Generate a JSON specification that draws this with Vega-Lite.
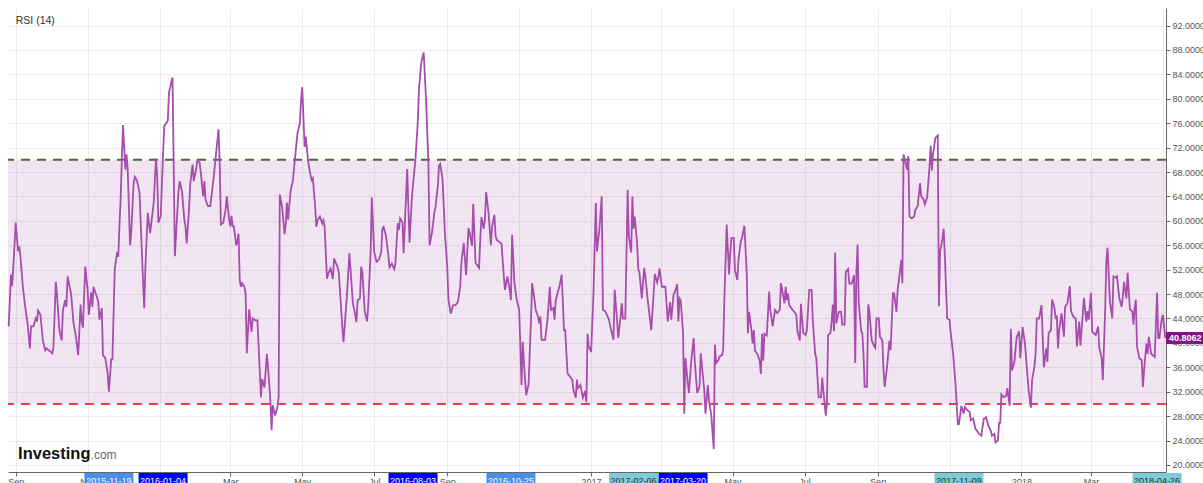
{
"$schema": "https://vega.github.io/schema/vega-lite/v6.json",
"width": 1158, "height": 464,
"autosize": {"type": "none"},
"padding": {"left": 8, "top": 8, "right": 37, "bottom": 11},
"background": "white",
"config": {"view": {"stroke": null}, "font": "Liberation Sans", "axisX": {"labelOverlap": false}, "axisY": {"labelOverlap": false}, "scale": {"continuousPadding": 0}},
"datasets": {
"rsi": [
{"date":"2015-08-26","rsi":42.7},{"date":"2015-08-28","rsi":51.2},{"date":"2015-08-29","rsi":49.3},{"date":"2015-08-30","rsi":52.5},{"date":"2015-09-01","rsi":59.7},{"date":"2015-09-03","rsi":55.0},{"date":"2015-09-04","rsi":55.8},{"date":"2015-09-05","rsi":54.2},{"date":"2015-09-07","rsi":49.3},{"date":"2015-09-09","rsi":46.0},{"date":"2015-09-11","rsi":43.3},{"date":"2015-09-13","rsi":39.1},{"date":"2015-09-14","rsi":42.7},{"date":"2015-09-16","rsi":42.7},{"date":"2015-09-18","rsi":44.0},{"date":"2015-09-19","rsi":43.5},{"date":"2015-09-20","rsi":45.3},{"date":"2015-09-22","rsi":44.6},{"date":"2015-09-24","rsi":40.4},{"date":"2015-09-26","rsi":38.8},{"date":"2015-09-27","rsi":39.1},{"date":"2015-09-29","rsi":38.8},{"date":"2015-10-01","rsi":38.5},{"date":"2015-10-02","rsi":38.3},{"date":"2015-10-03","rsi":39.4},{"date":"2015-10-05","rsi":50.0},{"date":"2015-10-06","rsi":48.0},{"date":"2015-10-08","rsi":42.1},{"date":"2015-10-10","rsi":40.4},{"date":"2015-10-11","rsi":45.3},{"date":"2015-10-13","rsi":47.0},{"date":"2015-10-14","rsi":45.9},{"date":"2015-10-15","rsi":50.9},{"date":"2015-10-18","rsi":48.0},{"date":"2015-10-20","rsi":43.3},{"date":"2015-10-22","rsi":41.1},{"date":"2015-10-24","rsi":38.0},{"date":"2015-10-26","rsi":46.3},{"date":"2015-10-27","rsi":43.5},{"date":"2015-10-28","rsi":42.5},{"date":"2015-10-30","rsi":52.5},{"date":"2015-11-01","rsi":48.6},{"date":"2015-11-02","rsi":44.6},{"date":"2015-11-04","rsi":48.3},{"date":"2015-11-05","rsi":45.9},{"date":"2015-11-06","rsi":49.2},{"date":"2015-11-08","rsi":48.0},{"date":"2015-11-10","rsi":46.8},{"date":"2015-11-11","rsi":43.8},{"date":"2015-11-13","rsi":45.7},{"date":"2015-11-14","rsi":38.0},{"date":"2015-11-16","rsi":37.5},{"date":"2015-11-18","rsi":35.0},{"date":"2015-11-19","rsi":32.0},{"date":"2015-11-21","rsi":37.3},{"date":"2015-11-22","rsi":37.3},{"date":"2015-11-24","rsi":52.1},{"date":"2015-11-26","rsi":54.9},{"date":"2015-11-27","rsi":54.1},{"date":"2015-11-28","rsi":59.3},{"date":"2015-11-29","rsi":63.5},{"date":"2015-11-30","rsi":70.1},{"date":"2015-12-01","rsi":75.7},{"date":"2015-12-03","rsi":68.4},{"date":"2015-12-04","rsi":70.9},{"date":"2015-12-05","rsi":68.4},{"date":"2015-12-07","rsi":56.0},{"date":"2015-12-08","rsi":58.2},{"date":"2015-12-10","rsi":66.2},{"date":"2015-12-11","rsi":67.2},{"date":"2015-12-13","rsi":66.5},{"date":"2015-12-15","rsi":64.6},{"date":"2015-12-17","rsi":54.9},{"date":"2015-12-18","rsi":50.0},{"date":"2015-12-19","rsi":45.7},{"date":"2015-12-20","rsi":52.5},{"date":"2015-12-22","rsi":61.3},{"date":"2015-12-23","rsi":59.7},{"date":"2015-12-24","rsi":58.0},{"date":"2015-12-26","rsi":61.3},{"date":"2015-12-27","rsi":62.9},{"date":"2015-12-29","rsi":70.2},{"date":"2015-12-30","rsi":67.3},{"date":"2015-12-31","rsi":59.7},
{"date":"2016-01-02","rsi":60.8},{"date":"2016-01-04","rsi":71.1},{"date":"2016-01-05","rsi":75.6},{"date":"2016-01-06","rsi":75.8},{"date":"2016-01-08","rsi":76.4},{"date":"2016-01-09","rsi":81.0},{"date":"2016-01-10","rsi":81.9},{"date":"2016-01-12","rsi":83.5},{"date":"2016-01-13","rsi":69.0},{"date":"2016-01-14","rsi":54.2},{"date":"2016-01-16","rsi":61.3},{"date":"2016-01-17","rsi":64.6},{"date":"2016-01-18","rsi":66.5},{"date":"2016-01-20","rsi":64.9},{"date":"2016-01-22","rsi":60.2},{"date":"2016-01-23","rsi":59.1},{"date":"2016-01-24","rsi":56.3},{"date":"2016-01-26","rsi":61.8},{"date":"2016-01-27","rsi":66.0},{"date":"2016-01-29","rsi":69.2},{"date":"2016-01-30","rsi":66.5},{"date":"2016-02-01","rsi":68.4},{"date":"2016-02-02","rsi":69.8},{"date":"2016-02-04","rsi":69.5},{"date":"2016-02-05","rsi":67.9},{"date":"2016-02-07","rsi":64.0},{"date":"2016-02-08","rsi":66.5},{"date":"2016-02-09","rsi":63.5},{"date":"2016-02-11","rsi":62.4},{"date":"2016-02-13","rsi":62.4},{"date":"2016-02-14","rsi":64.0},{"date":"2016-02-16","rsi":67.3},{"date":"2016-02-18","rsi":71.2},{"date":"2016-02-20","rsi":75.0},{"date":"2016-02-21","rsi":69.5},{"date":"2016-02-22","rsi":59.4},{"date":"2016-02-24","rsi":59.7},{"date":"2016-02-26","rsi":61.8},{"date":"2016-02-27","rsi":64.0},{"date":"2016-02-29","rsi":60.2},{"date":"2016-03-01","rsi":59.1},{"date":"2016-03-02","rsi":60.8},{"date":"2016-03-03","rsi":59.1},
{"date":"2016-03-04","rsi":59.1},{"date":"2016-03-06","rsi":56.0},{"date":"2016-03-07","rsi":56.6},{"date":"2016-03-08","rsi":57.9},{"date":"2016-03-09","rsi":50.3},{"date":"2016-03-10","rsi":49.2},{"date":"2016-03-11","rsi":49.8},{"date":"2016-03-13","rsi":49.2},{"date":"2016-03-14","rsi":48.0},{"date":"2016-03-15","rsi":38.3},{"date":"2016-03-17","rsi":45.5},{"date":"2016-03-19","rsi":41.8},{"date":"2016-03-20","rsi":44.0},{"date":"2016-03-22","rsi":43.7},{"date":"2016-03-24","rsi":43.7},{"date":"2016-03-27","rsi":31.1},{"date":"2016-03-28","rsi":34.1},{"date":"2016-03-30","rsi":32.7},{"date":"2016-04-01","rsi":38.2},{"date":"2016-04-02","rsi":36.0},{"date":"2016-04-04","rsi":30.5},{"date":"2016-04-05","rsi":25.7},{"date":"2016-04-06","rsi":29.8},{"date":"2016-04-08","rsi":28.1},{"date":"2016-04-10","rsi":29.5},{"date":"2016-04-11","rsi":31.1},{"date":"2016-04-12","rsi":64.3},{"date":"2016-04-14","rsi":62.2},{"date":"2016-04-16","rsi":57.8},{"date":"2016-04-17","rsi":59.4},{"date":"2016-04-18","rsi":63.0},{"date":"2016-04-19","rsi":60.2},{"date":"2016-04-21","rsi":64.6},{"date":"2016-04-22","rsi":65.7},{"date":"2016-04-23","rsi":66.5},{"date":"2016-04-25","rsi":70.5},{"date":"2016-04-27","rsi":74.4},{"date":"2016-04-29","rsi":76.0},{"date":"2016-04-30","rsi":79.8},{"date":"2016-05-01","rsi":81.9},{"date":"2016-05-03","rsi":72.1},{"date":"2016-05-04","rsi":73.8},{"date":"2016-05-06","rsi":69.7},{"date":"2016-05-08","rsi":67.5},{"date":"2016-05-09","rsi":66.7},{"date":"2016-05-10","rsi":67.0},{"date":"2016-05-12","rsi":62.3},{"date":"2016-05-13","rsi":59.0},{"date":"2016-05-14","rsi":60.1},{"date":"2016-05-16","rsi":60.7},{"date":"2016-05-18","rsi":59.6},{"date":"2016-05-19","rsi":60.1},{"date":"2016-05-20","rsi":59.0},{"date":"2016-05-22","rsi":50.5},{"date":"2016-05-23","rsi":51.3},{"date":"2016-05-25","rsi":52.2},{"date":"2016-05-27","rsi":50.5},{"date":"2016-05-28","rsi":53.8},{"date":"2016-05-31","rsi":52.4},{"date":"2016-06-01","rsi":51.6},{"date":"2016-06-04","rsi":42.6},{"date":"2016-06-05","rsi":40.1},{"date":"2016-06-08","rsi":48.0},{"date":"2016-06-10","rsi":54.7},{"date":"2016-06-13","rsi":46.4},{"date":"2016-06-14","rsi":45.6},{"date":"2016-06-16","rsi":43.4},{"date":"2016-06-17","rsi":47.0},{"date":"2016-06-19","rsi":47.3},{"date":"2016-06-20","rsi":52.5},{"date":"2016-06-21","rsi":51.6},{"date":"2016-06-23","rsi":45.2},{"date":"2016-06-25","rsi":43.5},{"date":"2016-06-26","rsi":46.2},{"date":"2016-06-28","rsi":54.9},{"date":"2016-06-29","rsi":63.8},{"date":"2016-07-01","rsi":54.9},{"date":"2016-07-03","rsi":53.3},{"date":"2016-07-05","rsi":53.6},{"date":"2016-07-07","rsi":54.9},{"date":"2016-07-08","rsi":58.7},{"date":"2016-07-09","rsi":59.0},{"date":"2016-07-11","rsi":57.6},{"date":"2016-07-13","rsi":54.4},{"date":"2016-07-14","rsi":52.4},{"date":"2016-07-16","rsi":53.0},{"date":"2016-07-18","rsi":52.1},{"date":"2016-07-19","rsi":53.0},{"date":"2016-07-21","rsi":59.6},{"date":"2016-07-22","rsi":58.5},{"date":"2016-07-23","rsi":60.4},{"date":"2016-07-25","rsi":59.8},{"date":"2016-07-26","rsi":54.7},{"date":"2016-07-29","rsi":68.5},{"date":"2016-07-31","rsi":56.4},{"date":"2016-08-02","rsi":63.8},{"date":"2016-08-03","rsi":66.0},{"date":"2016-08-05","rsi":70.1},{"date":"2016-08-07","rsi":76.1},{"date":"2016-08-08","rsi":81.6},{"date":"2016-08-10","rsi":86.0},{"date":"2016-08-12","rsi":87.6},{"date":"2016-08-14","rsi":80.0},{"date":"2016-08-16","rsi":69.5},{"date":"2016-08-17","rsi":56.0},{"date":"2016-08-19","rsi":58.0},{"date":"2016-08-21","rsi":61.3},{"date":"2016-08-22","rsi":62.2},{"date":"2016-08-24","rsi":65.7},{"date":"2016-08-25","rsi":69.0},{"date":"2016-08-26","rsi":69.3},{"date":"2016-08-28","rsi":66.8},{"date":"2016-08-30","rsi":58.0},{"date":"2016-09-01","rsi":52.5},{"date":"2016-09-02","rsi":47.0},{"date":"2016-09-04","rsi":44.8},{"date":"2016-09-06","rsi":46.2},{"date":"2016-09-08","rsi":46.2},{"date":"2016-09-10","rsi":46.7},{"date":"2016-09-12","rsi":49.2},{"date":"2016-09-13","rsi":53.1},{"date":"2016-09-15","rsi":56.4},{"date":"2016-09-17","rsi":51.1},{"date":"2016-09-19","rsi":58.8},
{"date":"2016-09-20","rsi":58.0},{"date":"2016-09-22","rsi":55.9},{"date":"2016-09-23","rsi":62.8},{"date":"2016-09-24","rsi":58.0},{"date":"2016-09-25","rsi":53.1},{"date":"2016-09-28","rsi":52.3},{"date":"2016-09-29","rsi":57.0},{"date":"2016-09-30","rsi":60.6},{"date":"2016-10-02","rsi":58.7},{"date":"2016-10-03","rsi":60.4},{"date":"2016-10-04","rsi":64.7},{"date":"2016-10-06","rsi":61.3},{"date":"2016-10-08","rsi":56.0},{"date":"2016-10-09","rsi":59.1},{"date":"2016-10-11","rsi":61.0},{"date":"2016-10-12","rsi":57.5},{"date":"2016-10-13","rsi":56.9},{"date":"2016-10-16","rsi":56.4},{"date":"2016-10-17","rsi":56.3},{"date":"2016-10-19","rsi":50.9},{"date":"2016-10-20","rsi":48.7},{"date":"2016-10-22","rsi":50.9},{"date":"2016-10-24","rsi":48.7},{"date":"2016-10-25","rsi":47.0},{"date":"2016-10-26","rsi":57.7},{"date":"2016-10-28","rsi":49.8},{"date":"2016-10-30","rsi":47.0},{"date":"2016-11-01","rsi":45.4},{"date":"2016-11-02","rsi":39.4},{"date":"2016-11-03","rsi":33.1},{"date":"2016-11-04","rsi":40.2},{"date":"2016-11-06","rsi":33.9},{"date":"2016-11-07","rsi":31.4},{"date":"2016-11-09","rsi":33.3},{"date":"2016-11-11","rsi":43.8},{"date":"2016-11-12","rsi":49.8},{"date":"2016-11-14","rsi":47.0},{"date":"2016-11-15","rsi":45.4},{"date":"2016-11-17","rsi":44.3},{"date":"2016-11-18","rsi":43.2},{"date":"2016-11-19","rsi":44.3},{"date":"2016-11-20","rsi":40.5},{"date":"2016-11-23","rsi":40.5},{"date":"2016-11-24","rsi":42.1},{"date":"2016-11-25","rsi":43.8},{"date":"2016-11-27","rsi":49.2},{"date":"2016-11-28","rsi":45.4},{"date":"2016-11-30","rsi":45.7},{"date":"2016-12-01","rsi":43.8},{"date":"2016-12-02","rsi":47.0},{"date":"2016-12-04","rsi":48.5},{"date":"2016-12-05","rsi":49.1},{"date":"2016-12-07","rsi":51.2},{"date":"2016-12-08","rsi":47.0},{"date":"2016-12-09","rsi":42.1},{"date":"2016-12-10","rsi":42.1},{"date":"2016-12-12","rsi":35.0},{"date":"2016-12-14","rsi":34.5},{"date":"2016-12-16","rsi":34.0},{"date":"2016-12-17","rsi":32.3},{"date":"2016-12-19","rsi":31.0},{"date":"2016-12-20","rsi":34.0},{"date":"2016-12-21","rsi":32.6},{"date":"2016-12-23","rsi":33.1},{"date":"2016-12-25","rsi":31.0},{"date":"2016-12-27","rsi":32.1},{"date":"2016-12-28","rsi":30.3},{"date":"2016-12-29","rsi":41.5},{"date":"2016-12-30","rsi":39.4},
{"date":"2017-01-01","rsi":38.5},{"date":"2017-01-03","rsi":48.0},{"date":"2017-01-05","rsi":62.9},{"date":"2017-01-06","rsi":55.0},{"date":"2017-01-08","rsi":58.5},{"date":"2017-01-10","rsi":64.0},{"date":"2017-01-11","rsi":45.4},{"date":"2017-01-13","rsi":45.2},{"date":"2017-01-15","rsi":44.3},{"date":"2017-01-16","rsi":43.9},{"date":"2017-01-18","rsi":42.1},{"date":"2017-01-20","rsi":40.5},{"date":"2017-01-21","rsi":48.7},{"date":"2017-01-23","rsi":43.8},{"date":"2017-01-24","rsi":40.8},{"date":"2017-01-26","rsi":44.3},{"date":"2017-01-27","rsi":46.5},{"date":"2017-01-28","rsi":44.0},{"date":"2017-01-30","rsi":44.0},{"date":"2017-02-01","rsi":65.1},{"date":"2017-02-02","rsi":57.5},{"date":"2017-02-04","rsi":54.8},{"date":"2017-02-05","rsi":64.0},{"date":"2017-02-06","rsi":58.7},{"date":"2017-02-07","rsi":60.7},{"date":"2017-02-09","rsi":56.3},{"date":"2017-02-10","rsi":52.1},{"date":"2017-02-11","rsi":51.5},{"date":"2017-02-13","rsi":47.3},{"date":"2017-02-15","rsi":52.3},{"date":"2017-02-16","rsi":50.9},{"date":"2017-02-18","rsi":47.0},{"date":"2017-02-20","rsi":43.8},{"date":"2017-02-21","rsi":42.1},{"date":"2017-02-23","rsi":48.0},{"date":"2017-02-24","rsi":51.3},{"date":"2017-02-26","rsi":49.9},{"date":"2017-02-27","rsi":50.7},{"date":"2017-02-28","rsi":52.2},{"date":"2017-03-02","rsi":49.2},{"date":"2017-03-04","rsi":49.2},{"date":"2017-03-05","rsi":49.2},{"date":"2017-03-07","rsi":43.5},{"date":"2017-03-09","rsi":46.7},{"date":"2017-03-10","rsi":43.8},{"date":"2017-03-12","rsi":48.0},{"date":"2017-03-13","rsi":48.3},{"date":"2017-03-15","rsi":49.6},{"date":"2017-03-16","rsi":43.5},{"date":"2017-03-17","rsi":47.3},{"date":"2017-03-18","rsi":47.0},{"date":"2017-03-20","rsi":41.6},{"date":"2017-03-21","rsi":28.4},{"date":"2017-03-22","rsi":37.5},{"date":"2017-03-24","rsi":33.4},{"date":"2017-03-25","rsi":31.8},{"date":"2017-03-27","rsi":37.2},{"date":"2017-03-29","rsi":40.8},{"date":"2017-03-30","rsi":36.7},{"date":"2017-04-01","rsi":31.8},{"date":"2017-04-03","rsi":32.9},{"date":"2017-04-04","rsi":38.3},
{"date":"2017-04-07","rsi":32.2},{"date":"2017-04-08","rsi":28.4},{"date":"2017-04-10","rsi":33.1},{"date":"2017-04-11","rsi":30.6},{"date":"2017-04-13","rsi":28.0},{"date":"2017-04-15","rsi":22.6},{"date":"2017-04-16","rsi":39.7},{"date":"2017-04-17","rsi":36.7},{"date":"2017-04-19","rsi":37.2},{"date":"2017-04-20","rsi":37.8},{"date":"2017-04-22","rsi":38.0},{"date":"2017-04-23","rsi":38.9},{"date":"2017-04-24","rsi":47.0},{"date":"2017-04-26","rsi":59.4},{"date":"2017-04-28","rsi":51.2},{"date":"2017-04-29","rsi":54.7},{"date":"2017-04-30","rsi":57.2},{"date":"2017-05-02","rsi":57.2},{"date":"2017-05-03","rsi":51.9},{"date":"2017-05-05","rsi":50.3},{"date":"2017-05-06","rsi":53.6},{"date":"2017-05-08","rsi":56.7},{"date":"2017-05-09","rsi":57.2},{"date":"2017-05-11","rsi":59.2},{"date":"2017-05-13","rsi":51.4},{"date":"2017-05-14","rsi":41.6},{"date":"2017-05-15","rsi":45.1},{"date":"2017-05-17","rsi":42.1},{"date":"2017-05-18","rsi":39.9},{"date":"2017-05-19","rsi":42.1},{"date":"2017-05-20","rsi":38.7},{"date":"2017-05-22","rsi":38.2},{"date":"2017-05-24","rsi":37.1},{"date":"2017-05-25","rsi":34.9},{"date":"2017-05-26","rsi":41.5},{"date":"2017-05-27","rsi":37.1},{"date":"2017-05-28","rsi":41.5},{"date":"2017-05-30","rsi":41.2},{"date":"2017-06-01","rsi":48.4},{"date":"2017-06-02","rsi":45.4},{"date":"2017-06-04","rsi":42.7},{"date":"2017-06-06","rsi":45.4},{"date":"2017-06-08","rsi":44.9},{"date":"2017-06-10","rsi":45.4},{"date":"2017-06-11","rsi":49.8},{"date":"2017-06-12","rsi":48.7},{"date":"2017-06-14","rsi":46.5},{"date":"2017-06-15","rsi":49.2},{"date":"2017-06-16","rsi":47.0},{"date":"2017-06-17","rsi":48.1},{"date":"2017-06-18","rsi":46.2},{"date":"2017-06-19","rsi":45.9},{"date":"2017-06-21","rsi":45.4},{"date":"2017-06-23","rsi":44.9},{"date":"2017-06-24","rsi":44.6},{"date":"2017-06-25","rsi":41.9},{"date":"2017-06-27","rsi":40.4},{"date":"2017-06-28","rsi":46.4},{"date":"2017-06-29","rsi":43.8},{"date":"2017-06-30","rsi":41.6},{"date":"2017-07-02","rsi":41.3},{"date":"2017-07-03","rsi":42.1},{"date":"2017-07-05","rsi":48.7},{"date":"2017-07-07","rsi":48.7},{"date":"2017-07-08","rsi":43.8},{"date":"2017-07-10","rsi":38.3},{"date":"2017-07-11","rsi":37.5},{"date":"2017-07-13","rsi":31.1},{"date":"2017-07-15","rsi":31.1},{"date":"2017-07-16","rsi":34.3},{"date":"2017-07-17","rsi":32.2},{"date":"2017-07-19","rsi":28.1},{"date":"2017-07-20","rsi":30.0},{"date":"2017-07-21","rsi":41.3},{"date":"2017-07-23","rsi":41.6},{"date":"2017-07-24","rsi":43.5},{"date":"2017-07-25","rsi":46.3},{"date":"2017-07-26","rsi":41.9},{"date":"2017-07-27","rsi":54.8},{"date":"2017-07-28","rsi":43.2},{"date":"2017-07-30","rsi":45.1},{"date":"2017-08-01","rsi":45.1},{"date":"2017-08-02","rsi":43.0},{"date":"2017-08-04","rsi":43.0},{"date":"2017-08-05","rsi":51.6},{"date":"2017-08-07","rsi":52.1},{"date":"2017-08-08","rsi":49.7},{"date":"2017-08-10","rsi":49.7},{"date":"2017-08-12","rsi":51.1},{"date":"2017-08-13","rsi":36.7},{"date":"2017-08-14","rsi":51.6},{"date":"2017-08-15","rsi":56.1},{"date":"2017-08-16","rsi":46.6},{"date":"2017-08-18","rsi":41.9},{"date":"2017-08-19","rsi":41.6},{"date":"2017-08-20","rsi":38.3},{"date":"2017-08-21","rsi":32.8},{"date":"2017-08-23","rsi":32.8},{"date":"2017-08-24","rsi":46.3},{"date":"2017-08-25","rsi":45.2},{"date":"2017-08-27","rsi":40.4},{"date":"2017-08-29","rsi":39.5},{"date":"2017-08-30","rsi":39.2},{"date":"2017-08-31","rsi":44.0},{"date":"2017-09-02","rsi":44.0},{"date":"2017-09-03","rsi":41.0},{"date":"2017-09-05","rsi":40.4},{"date":"2017-09-06","rsi":35.5},{"date":"2017-09-07","rsi":32.8},{"date":"2017-09-09","rsi":36.1},{"date":"2017-09-11","rsi":40.4},{"date":"2017-09-12","rsi":38.8},{"date":"2017-09-14","rsi":48.1},{"date":"2017-09-15","rsi":48.1},{"date":"2017-09-17","rsi":45.1},{"date":"2017-09-18","rsi":48.7},{"date":"2017-09-20","rsi":51.9},{"date":"2017-09-21","rsi":53.6},{"date":"2017-09-22","rsi":49.8},{"date":"2017-09-23","rsi":70.9},{"date":"2017-09-24","rsi":70.1},{"date":"2017-09-26","rsi":68.4},{"date":"2017-09-27","rsi":70.6},{"date":"2017-09-28","rsi":60.7},{"date":"2017-09-30","rsi":60.4},{"date":"2017-10-02","rsi":60.7},{"date":"2017-10-03","rsi":61.8},{"date":"2017-10-05","rsi":62.4},{"date":"2017-10-07","rsi":66.2},{"date":"2017-10-08","rsi":64.0},{"date":"2017-10-10","rsi":63.5},{"date":"2017-10-11","rsi":62.7},{"date":"2017-10-13","rsi":63.8},{"date":"2017-10-15","rsi":68.8},{"date":"2017-10-16","rsi":72.3},{"date":"2017-10-17","rsi":68.2},{"date":"2017-10-18","rsi":70.9},{"date":"2017-10-20","rsi":73.6},
{"date":"2017-10-22","rsi":74.0},{"date":"2017-10-23","rsi":46.0},{"date":"2017-10-24","rsi":54.9},{"date":"2017-10-26","rsi":57.1},{"date":"2017-10-27","rsi":58.7},{"date":"2017-10-28","rsi":54.3},{"date":"2017-10-30","rsi":44.0},{"date":"2017-11-01","rsi":43.8},{"date":"2017-11-02","rsi":41.6},{"date":"2017-11-04","rsi":38.3},{"date":"2017-11-06","rsi":33.4},{"date":"2017-11-08","rsi":26.7},{"date":"2017-11-09","rsi":26.7},{"date":"2017-11-11","rsi":29.7},{"date":"2017-11-13","rsi":28.4},{"date":"2017-11-14","rsi":29.5},{"date":"2017-11-16","rsi":29.0},{"date":"2017-11-18","rsi":28.7},{"date":"2017-11-19","rsi":27.3},{"date":"2017-11-21","rsi":27.6},{"date":"2017-11-23","rsi":25.9},{"date":"2017-11-24","rsi":25.7},{"date":"2017-11-26","rsi":25.1},{"date":"2017-11-28","rsi":24.8},{"date":"2017-11-30","rsi":27.6},{"date":"2017-12-01","rsi":27.6},{"date":"2017-12-02","rsi":27.8},{"date":"2017-12-04","rsi":26.4},{"date":"2017-12-06","rsi":25.6},{"date":"2017-12-07","rsi":24.8},{"date":"2017-12-09","rsi":25.1},{"date":"2017-12-10","rsi":23.7},{"date":"2017-12-12","rsi":24.0},{"date":"2017-12-13","rsi":26.9},{"date":"2017-12-14","rsi":26.9},{"date":"2017-12-15","rsi":31.6},{"date":"2017-12-17","rsi":31.1},{"date":"2017-12-19","rsi":31.3},{"date":"2017-12-20","rsi":32.6},{"date":"2017-12-22","rsi":29.7},{"date":"2017-12-23","rsi":42.3},{"date":"2017-12-24","rsi":35.5},{"date":"2017-12-26","rsi":36.9},{"date":"2017-12-27","rsi":39.1},{"date":"2017-12-28","rsi":41.0},{"date":"2017-12-30","rsi":41.9},{"date":"2017-12-31","rsi":37.5},
{"date":"2018-01-02","rsi":42.6},{"date":"2018-01-04","rsi":39.8},{"date":"2018-01-05","rsi":37.3},{"date":"2018-01-07","rsi":32.4},{"date":"2018-01-09","rsi":29.4},{"date":"2018-01-10","rsi":33.9},{"date":"2018-01-12","rsi":36.1},{"date":"2018-01-13","rsi":38.3},{"date":"2018-01-14","rsi":44.0},{"date":"2018-01-16","rsi":44.0},{"date":"2018-01-17","rsi":45.1},{"date":"2018-01-18","rsi":46.2},{"date":"2018-01-20","rsi":36.0},{"date":"2018-01-22","rsi":39.1},{"date":"2018-01-23","rsi":36.9},{"date":"2018-01-24","rsi":41.6},{"date":"2018-01-26","rsi":42.1},{"date":"2018-01-27","rsi":47.1},{"date":"2018-01-29","rsi":45.7},{"date":"2018-01-30","rsi":44.1},{"date":"2018-01-31","rsi":44.3},{"date":"2018-02-01","rsi":39.1},{"date":"2018-02-02","rsi":42.1},{"date":"2018-02-04","rsi":44.9},{"date":"2018-02-06","rsi":41.0},{"date":"2018-02-07","rsi":45.9},{"date":"2018-02-09","rsi":46.5},{"date":"2018-02-11","rsi":49.3},{"date":"2018-02-12","rsi":45.2},{"date":"2018-02-14","rsi":44.3},{"date":"2018-02-16","rsi":44.0},{"date":"2018-02-17","rsi":39.4},{"date":"2018-02-19","rsi":43.5},{"date":"2018-02-20","rsi":39.6},{"date":"2018-02-21","rsi":42.1},{"date":"2018-02-23","rsi":47.4},{"date":"2018-02-25","rsi":43.5},{"date":"2018-02-26","rsi":45.2},{"date":"2018-02-27","rsi":43.8},{"date":"2018-03-01","rsi":48.2},{"date":"2018-03-02","rsi":41.9},{"date":"2018-03-03","rsi":41.6},{"date":"2018-03-05","rsi":41.3},{"date":"2018-03-07","rsi":42.7},{"date":"2018-03-08","rsi":39.2},{"date":"2018-03-10","rsi":37.5},{"date":"2018-03-11","rsi":33.9},{"date":"2018-03-13","rsi":45.4},{"date":"2018-03-14","rsi":53.4},{"date":"2018-03-15","rsi":55.6},{"date":"2018-03-17","rsi":46.8},{"date":"2018-03-19","rsi":44.0},{"date":"2018-03-20","rsi":50.9},{"date":"2018-03-22","rsi":50.7},{"date":"2018-03-23","rsi":50.9},{"date":"2018-03-25","rsi":47.3},{"date":"2018-03-27","rsi":45.9},{"date":"2018-03-28","rsi":47.6},{"date":"2018-03-29","rsi":50.0},{"date":"2018-03-31","rsi":47.3},{"date":"2018-04-01","rsi":51.5},{"date":"2018-04-02","rsi":48.5},{"date":"2018-04-03","rsi":45.5},{"date":"2018-04-05","rsi":45.2},{"date":"2018-04-06","rsi":43.0},{"date":"2018-04-07","rsi":45.7},{"date":"2018-04-08","rsi":47.1},{"date":"2018-04-09","rsi":39.4},{"date":"2018-04-11","rsi":37.5},{"date":"2018-04-13","rsi":37.2},{"date":"2018-04-14","rsi":32.8},{"date":"2018-04-15","rsi":35.5},{"date":"2018-04-17","rsi":39.9},{"date":"2018-04-18","rsi":38.2},{"date":"2018-04-19","rsi":41.0},{"date":"2018-04-21","rsi":38.2},{"date":"2018-04-23","rsi":37.9},{"date":"2018-04-24","rsi":37.7},{"date":"2018-04-26","rsi":48.2},{"date":"2018-04-27","rsi":40.8},{"date":"2018-04-28","rsi":40.8},{"date":"2018-04-30","rsi":44.0},{"date":"2018-05-01","rsi":44.6},{"date":"2018-05-03","rsi":40.8062}
],
"events": [
{"date":"2015-11-19","label":"2015-11-19","kind":"light"},
{"date":"2016-01-04","label":"2016-01-04","kind":"dark"},
{"date":"2016-08-03","label":"2016-08-03","kind":"dark"},
{"date":"2016-10-25","label":"2016-10-25","kind":"light"},
{"date":"2017-02-06","label":"2017-02-06","kind":"teal"},
{"date":"2017-03-20","label":"2017-03-20","kind":"dark"},
{"date":"2017-11-09","label":"2017-11-09","kind":"teal"},
{"date":"2018-04-26","label":"2018-04-26","kind":"teal"}
]
},
"layer": [
{
"data": {"values": [{}]},
"mark": {"type": "rect", "color": "#800080", "opacity": 0.1},
"encoding": {
"y": {"datum": 30, "type": "quantitative", "scale": {"domain": [18.85, 94.87], "nice": false, "zero": false}},
"y2": {"datum": 70}
}
},
{
"data": {"values": [{}]},
"mark": {"type": "rule", "color": "#4d6b35", "strokeWidth": 2, "strokeDash": [9, 7]},
"encoding": {"y": {"datum": 70, "type": "quantitative", "scale": {"domain": [18.85, 94.87], "nice": false, "zero": false}}}
},
{
"data": {"values": [{}]},
"mark": {"type": "rule", "color": "#f0424b", "strokeWidth": 2, "strokeDash": [9, 7]},
"encoding": {"y": {"datum": 30, "type": "quantitative", "scale": {"domain": [18.85, 94.87], "nice": false, "zero": false}}}
},
{
"data": {"name": "rsi"},
"mark": {"type": "line", "color": "#a64dad", "strokeWidth": 1.8},
"encoding": {
"x": {"field": "date", "type": "temporal",
 "scale": {"type": "utc", "padding": 0, "domain": [{"year": 2015, "month": 8, "date": 25, "hours": 11, "utc": true}, {"year": 2018, "month": 5, "date": 3, "hours": 14, "utc": true}]},
 "axis": {"title": null, "tickCount": {"interval": "month", "step": 2},
  "labelExpr": "utcFormat(datum.value, '%m') == '01' ? utcFormat(datum.value, '%Y') : utcFormat(datum.value, '%b')",
  "grid": true, "gridColor": "#ececec", "domainColor": "#666666", "tickColor": "#666666", "tickSize": 4,
  "labelFontSize": 9, "labelColor": "#555555", "labelPadding": 1, "labelFlush": false, "labelOverlap": false, "zindex": 0}},
"y": {"field": "rsi", "type": "quantitative",
 "scale": {"domain": [18.85, 94.87], "nice": false, "zero": false},
 "axis": {"title": null, "orient": "right", "values": [20,24,28,32,36,40,44,48,52,56,60,64,68,72,76,80,84,88,92], "tickCount": 40, "format": ".4f",
  "grid": true, "gridColor": "#ececec", "domainColor": "#666666", "tickColor": "#666666", "tickSize": 4,
  "labelFontSize": 9, "labelColor": "#555555", "labelPadding": 2, "labelFlush": false, "labelOverlap": false, "zindex": 0}}
}
},
{
"data": {"name": "events"},
"mark": {"type": "bar", "width": 49, "clip": false},
"encoding": {
"x": {"field": "date", "type": "temporal", "scale": {"type": "utc", "padding": 0, "domain": [{"year": 2015, "month": 8, "date": 25, "hours": 11, "utc": true}, {"year": 2018, "month": 5, "date": 3, "hours": 14, "utc": true}]}},
"y": {"datum": 18.69, "type": "quantitative", "scale": {"domain": [18.85, 94.87], "nice": false, "zero": false}},
"y2": {"datum": 16.3},
"fill": {"field": "kind", "type": "nominal", "scale": {"domain": ["light", "dark", "teal"], "range": ["#4b8ee6", "#0000f5", "#7ccbd7"]}, "legend": null}
}
},
{
"data": {"name": "events"},
"mark": {"type": "text", "fontSize": 9, "baseline": "top", "align": "center", "clip": false},
"encoding": {
"x": {"field": "date", "type": "temporal", "scale": {"type": "utc", "padding": 0, "domain": [{"year": 2015, "month": 8, "date": 25, "hours": 11, "utc": true}, {"year": 2018, "month": 5, "date": 3, "hours": 14, "utc": true}]}},
"y": {"datum": 18.1, "type": "quantitative", "scale": {"domain": [18.85, 94.87], "nice": false, "zero": false}},
"text": {"field": "label"},
"color": {"field": "kind", "type": "nominal", "scale": {"domain": ["light", "dark", "teal"], "range": ["#ffffff", "#ffffff", "#333333"]}, "legend": null}
}
},
{
"data": {"values": [{}]},
"mark": {"type": "text", "text": "RSI (14)", "fontSize": 10.5, "color": "#333333", "align": "left", "baseline": "alphabetic"},
"encoding": {
"x": {"datum": {"year": 2015, "month": 9, "date": 1, "utc": true}, "type": "temporal", "scale": {"type": "utc", "padding": 0, "domain": [{"year": 2015, "month": 8, "date": 25, "hours": 11, "utc": true}, {"year": 2018, "month": 5, "date": 3, "hours": 14, "utc": true}]}},
"y": {"datum": 92.25, "type": "quantitative", "scale": {"domain": [18.85, 94.87], "nice": false, "zero": false}}
}
},
{
"data": {"values": [{}]},
"mark": {"type": "text", "text": "Investing", "fontSize": 16.5, "fontWeight": "bold", "color": "#111111", "align": "left", "baseline": "alphabetic"},
"encoding": {
"x": {"datum": {"year": 2015, "month": 9, "date": 3, "utc": true}, "type": "temporal", "scale": {"type": "utc", "padding": 0, "domain": [{"year": 2015, "month": 8, "date": 25, "hours": 11, "utc": true}, {"year": 2018, "month": 5, "date": 3, "hours": 14, "utc": true}]}},
"y": {"datum": 20.93, "type": "quantitative", "scale": {"domain": [18.85, 94.87], "nice": false, "zero": false}}
}
},
{
"data": {"values": [{}]},
"mark": {"type": "text", "text": ".com", "fontSize": 12, "color": "#666666", "align": "left", "baseline": "alphabetic", "dx": 72.5},
"encoding": {
"x": {"datum": {"year": 2015, "month": 9, "date": 3, "utc": true}, "type": "temporal", "scale": {"type": "utc", "padding": 0, "domain": [{"year": 2015, "month": 8, "date": 25, "hours": 11, "utc": true}, {"year": 2018, "month": 5, "date": 3, "hours": 14, "utc": true}]}},
"y": {"datum": 20.93, "type": "quantitative", "scale": {"domain": [18.85, 94.87], "nice": false, "zero": false}}
}
},
{
"data": {"values": [{}]},
"mark": {"type": "point", "shape": "M0,-0.162L1,-0.162L1,0.162L0,0.162Z", "size": 5476, "filled": true, "color": "#85128a", "opacity": 1, "strokeWidth": 0, "clip": false},
"encoding": {
"x": {"datum": {"year": 2018, "month": 5, "date": 3, "hours": 14, "utc": true}, "type": "temporal", "scale": {"type": "utc", "padding": 0, "domain": [{"year": 2015, "month": 8, "date": 25, "hours": 11, "utc": true}, {"year": 2018, "month": 5, "date": 3, "hours": 14, "utc": true}]}},
"y": {"datum": 40.8062, "type": "quantitative", "scale": {"domain": [18.85, 94.87], "nice": false, "zero": false}}
}
},
{
"data": {"values": [{}]},
"mark": {"type": "text", "text": "40.8062", "fontSize": 9, "fontWeight": "bold", "color": "#ffffff", "align": "left", "baseline": "middle", "dx": 3, "clip": false},
"encoding": {
"x": {"datum": {"year": 2018, "month": 5, "date": 3, "hours": 14, "utc": true}, "type": "temporal", "scale": {"type": "utc", "padding": 0, "domain": [{"year": 2015, "month": 8, "date": 25, "hours": 11, "utc": true}, {"year": 2018, "month": 5, "date": 3, "hours": 14, "utc": true}]}},
"y": {"datum": 40.8062, "type": "quantitative", "scale": {"domain": [18.85, 94.87], "nice": false, "zero": false}}
}
}
]
}
